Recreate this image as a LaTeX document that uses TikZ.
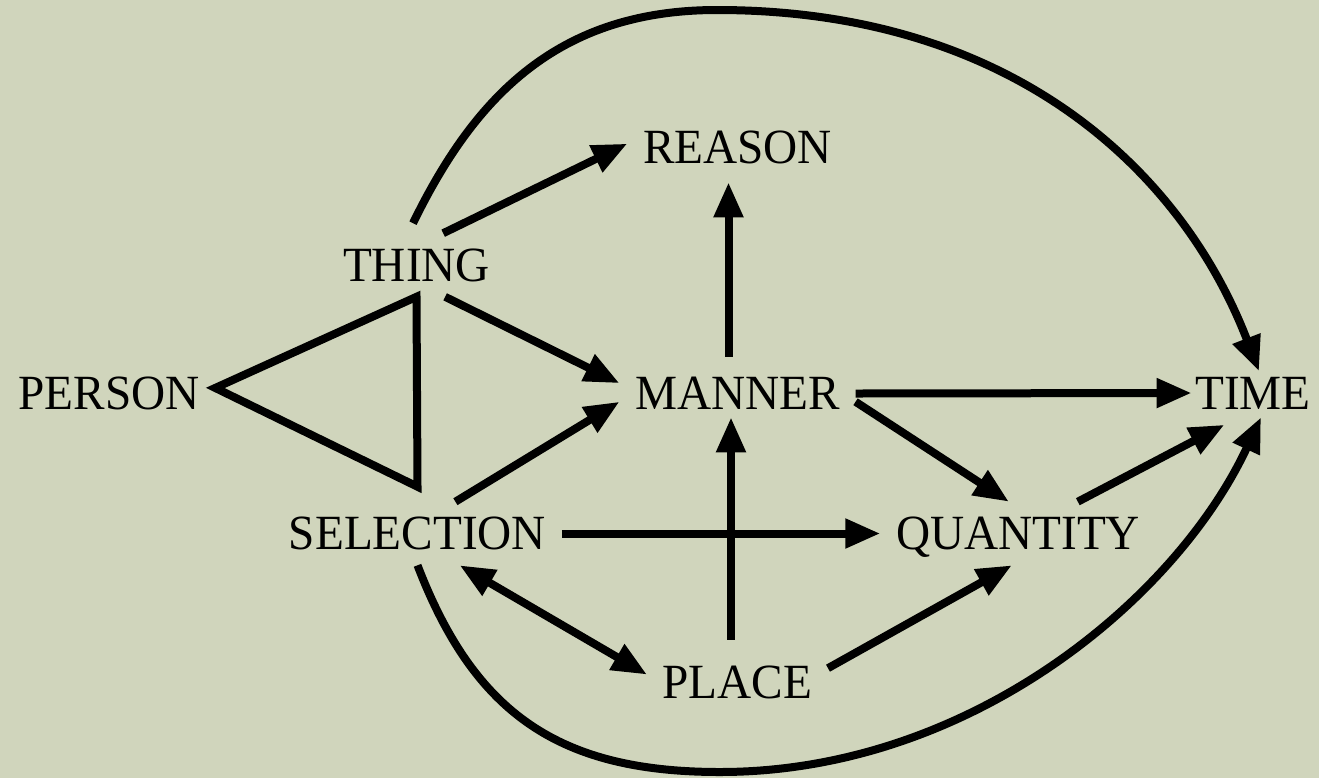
\documentclass[tikz,border=0pt]{standalone}
\usepackage{fontspec}
\newfontfamily\termfont{Liberation Serif}[FakeStretch=0.96]
\usetikzlibrary{arrows.meta}
\definecolor{paper}{RGB}{208,213,188}

\begin{document}
\begin{tikzpicture}[
  font=\termfont\fontsize{14}{16}\selectfont,
  >={Triangle[length=0.35cm,width=0.28cm]},
  term/.style={
    inner sep=0.15cm,
    text height=0.322cm,
    text depth=0cm
  },
  arrow/.style={->, line width=0.08cm, draw=black},
  link/.style={line width=0.08cm, draw=black, line join=miter}
]
\useasboundingbox (0,0) rectangle (13.19,7.78);
\fill[paper] (0,0) rectangle (13.19,7.78);

% 节点
\node[term] (reason) at (7.375,6.305) {REASON};
\node[term] (thing) at (4.165,5.13) {THING};
\node[term] (person) at (1.09,3.845) {PERSON};
\node[term] (manner) at (7.375,3.845) {MANNER};
\node[term] (time) at (12.53,3.85) {TIME};
\node[term] (selection) at (4.175,2.445) {SELECTION};
\node[term] (quantity) at (10.18,2.445) {QUANTITY};
\node[term] (place) at (7.375,0.955) {PLACE};

% 左侧三角
\draw[link] (person.3) -- (thing.south) -- ([yshift=0.15cm]selection.north) -- cycle;

% THING / SELECTION 出发
\draw[arrow] (thing.50) -- (reason.178);
\draw[arrow] (thing.-48) -- (manner.175);
\draw[arrow] (selection.40) -- (manner.184);
\draw[arrow] (selection.east) -- (quantity.west);
\draw[arrow, <->] (selection.-37) -- (place.175);

% MANNER 出发
\draw[arrow] ([xshift=-0.09cm,yshift=0.05cm]manner.north) -- ([xshift=-0.09cm,yshift=-0.03cm]reason.south);
\draw[arrow] (manner.east) -- ([xshift=0.12cm]time.west);
\draw[arrow] (manner.-4) -- (quantity.106);

% PLACE / QUANTITY 出发
\draw[arrow] ([xshift=-0.065cm,yshift=0.11cm]place.north) -- ([xshift=-0.065cm,yshift=0.08cm]manner.south);
\draw[arrow] (place.9) -- (quantity.-101);
\draw[arrow] (quantity.28) -- (time.-132);

% 上下两条大弧
\coordinate (arctop) at (7.17,7.68);
\coordinate (arcbot) at (7.20,0.06);
\draw[arrow] ([xshift=-0.035cm,yshift=0.1cm]thing.north)
  .. controls +(64:1.4) and +(180:1.6) .. (arctop)
  .. controls +(0:3.0) and +(111:2.1) .. ([xshift=0.06cm,yshift=-0.1cm]time.north);
\draw[arrow] (selection.south)
  .. controls +(-69:1.6) and +(180:1.6) .. (arcbot)
  .. controls +(0:2.5) and +(245:2.0) .. ([xshift=0.08cm,yshift=0.075cm]time.south);

\end{tikzpicture}
\end{document}
